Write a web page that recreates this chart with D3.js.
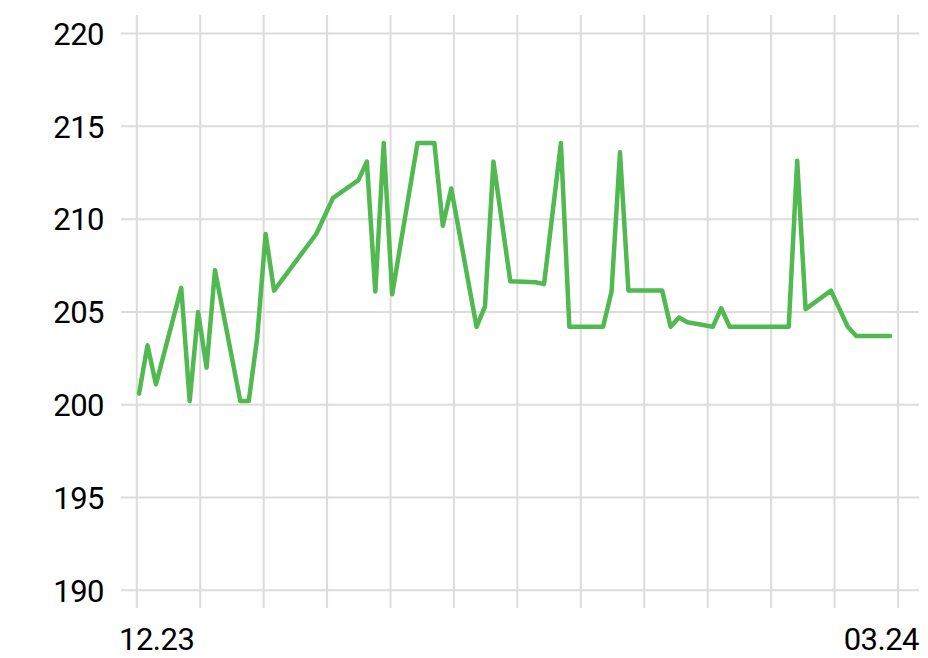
<!DOCTYPE html>
<html lang="en">
<head>
  <meta charset="UTF-8">
  <title>Chart</title>
  <script src="https://d3js.org/d3.v7.min.js"></script>
  <style>
    body { margin: 0; background: #fff; }
    text { font-family: Roboto, "Noto Sans", sans-serif; font-weight: 400; fill: #000; letter-spacing: -0.5px; }
  </style>
</head>
<body>
<svg id="chart"></svg>
<script>
  const width = 928, height = 658;

  // data: dates of the points and their values
  const dates = [
    "2023-12-04","2023-12-05","2023-12-06","2023-12-09","2023-12-10","2023-12-11",
    "2023-12-12","2023-12-13","2023-12-16","2023-12-17","2023-12-18","2023-12-19",
    "2023-12-20","2023-12-25","2023-12-27","2023-12-30","2023-12-31","2024-01-01",
    "2024-01-02","2024-01-03","2024-01-06","2024-01-08","2024-01-09","2024-01-10",
    "2024-01-13","2024-01-14","2024-01-15","2024-01-17","2024-01-20","2024-01-21",
    "2024-01-23","2024-01-24","2024-01-28","2024-01-29","2024-01-30","2024-01-31",
    "2024-02-04","2024-02-05","2024-02-06","2024-02-07","2024-02-10","2024-02-11",
    "2024-02-12","2024-02-19","2024-02-20","2024-02-21","2024-02-24","2024-02-26",
    "2024-02-27","2024-03-02"
  ];
  const values = [
    200.6, 203.2, 201.1, 206.3, 200.2, 205.0,
    202.0, 207.25, 200.2, 200.2, 203.6, 209.2,
    206.15, 209.2, 211.15, 212.1, 213.1, 206.1,
    214.1, 205.95, 214.1, 214.1, 209.65, 211.65,
    204.2, 205.3, 213.1, 206.65, 206.6, 206.5,
    214.1, 204.2, 204.2, 206.1, 213.6, 206.15,
    206.15, 204.2, 204.7, 204.45, 204.2, 205.2,
    204.2, 204.2, 213.15, 205.15, 206.15, 204.2,
    203.7, 203.7
  ];
  const yTicks = [190, 195, 200, 205, 210, 215, 220];
  const yDomain = [189.05, 221];
  // vertical grid: 13 evenly spaced lines, offsets in days from the first date
  const gridStartDay = -0.27, gridStepDays = 7.518, gridCount = 13;
  const padLeftDays = 2.14, padRightDays = 3.44;

  const parse = d3.timeParse("%Y-%m-%d");
  const data = dates.map((d, i) => ({date: parse(d), value: values[i]}));

  const mLeft = 121, mRight = 919, mTop = 15, mBottom = 608;
  const day = 864e5;
  const first = data[0].date, last = data[data.length - 1].date;

  const x = d3.scaleTime()
    .domain([new Date(+first - padLeftDays * day), new Date(+last + padRightDays * day)])
    .range([mLeft, mRight]);
  const y = d3.scaleLinear().domain(yDomain).range([mBottom, mTop]);

  const svg = d3.select("#chart").attr("width", width).attr("height", height);

  const gridDates = d3.range(gridCount).map(k => new Date(+first + (gridStartDay + k * gridStepDays) * day));

  svg.append("g")
    .selectAll("line")
    .data(gridDates)
    .join("line")
      .attr("x1", d => x(d)).attr("x2", d => x(d))
      .attr("y1", mTop).attr("y2", mBottom)
      .attr("stroke", "#dcdcdc")
      .attr("stroke-width", 2);

  svg.append("g")
    .selectAll("line")
    .data(yTicks)
    .join("line")
      .attr("x1", mLeft).attr("x2", mRight)
      .attr("y1", d => y(d)).attr("y2", d => y(d))
      .attr("stroke", "#dcdcdc")
      .attr("stroke-width", 2);

  svg.append("g")
    .selectAll("text")
    .data(yTicks)
    .join("text")
      .attr("x", mLeft - 17)
      .attr("y", d => y(d))
      .attr("dy", "0.36em")
      .attr("text-anchor", "end")
      .attr("font-size", 31)
      .text(d => d);

  const fmt = d3.timeFormat("%m.%y");
  svg.append("text")
    .attr("x", mLeft - 2).attr("y", 650)
    .attr("text-anchor", "start")
    .attr("font-size", 31)
    .text(fmt(first));
  svg.append("text")
    .attr("x", mRight).attr("y", 650)
    .attr("text-anchor", "end")
    .attr("font-size", 31)
    .text(fmt(last));

  const line = d3.line()
    .x(d => x(d.date))
    .y(d => y(d.value));

  svg.append("path")
    .datum(data)
    .attr("fill", "none")
    .attr("stroke", "#50b94f")
    .attr("stroke-width", 4.5)
    .attr("stroke-linejoin", "round")
    .attr("stroke-linecap", "round")
    .attr("d", line);
</script>
</body>
</html>
